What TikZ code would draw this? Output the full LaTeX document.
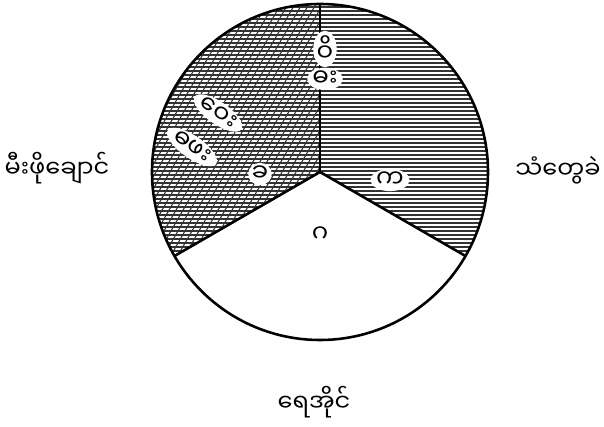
\documentclass[tikz,border=0pt]{standalone}
\usepackage{fontspec}
\newfontfamily\mmfont[Script=Myanmar]{Noto Sans Myanmar UI}
\usetikzlibrary{positioning,shapes.geometric,calc}

\begin{document}
\begin{tikzpicture}[
    x=0.03cm, y=0.03cm,
    every node/.style={font=\mmfont\fontsize{20.5}{24}\selectfont},
    hatch/.style={black!80, line width=0.9pt},
    rim/.style={line width=2.2pt},
    tag/.style={ellipse, fill=white, inner sep=0pt},
    glyph/.style={font=\mmfont\fontsize{21}{21}\selectfont}
  ]
    \useasboundingbox (0,0) rectangle (604,427);
    \def\rad{168}
    \coordinate (o) at (320,255);

    % left sector: cross hatching
    \begin{scope}
      \clip (o) -- ++(90:\rad) arc[start angle=90, end angle=210, radius=\rad] -- cycle;
      \foreach \y in {80,84,...,430}
        \draw[hatch] (140,\y) -- (500,\y);
      \foreach \x in {-120,-113,...,340}
        \draw[hatch] (\x,80) -- ++(60:420);
    \end{scope}

    % right sector: horizontal lines
    \begin{scope}
      \clip (o) -- ++(-30:\rad) arc[start angle=-30, end angle=90, radius=\rad] -- cycle;
      \foreach \y in {80,84,...,430}
        \draw[hatch] (140,\y) -- (500,\y);
    \end{scope}

    \coordinate (top) at ($(o)+(90:\rad)$);
    \coordinate (lft) at ($(o)+(210:\rad)$);
    \coordinate (rgt) at ($(o)+(-30:\rad)$);

    \draw[rim] (o) circle[radius=\rad];
    \draw[rim] (o) -- (top);
    \draw[rim] (o) -- (lft);
    \draw[rim] (o) -- (rgt);

    % letters inside
    \node[tag, glyph] (mi1) at (325,378) {ဝိ};
    \node[tag, glyph, below=0pt of mi1] (mi2) {ဓး};
    \node[tag, glyph, rotate=-35] (blob1) at (218,314) {ဝေး};
    \node[tag, glyph, rotate=-35] (blob2) at (192,280) {ဓဖး};
    \node[tag, glyph] (kha) at (260,253) {ခ};
    \node[tag, glyph] (ka) at (390,247) {က};
    \node[glyph] (ga) at (320,192) {ဂ};

    % names outside
    \node (kitchen) at (57,259) {မီးဖိုချောင်};
    \node (iron) at (558,257) {သံတွေခဲ};
    \node (pond) at (314,25) {ရေအိုင်};
\end{tikzpicture}
\end{document}
